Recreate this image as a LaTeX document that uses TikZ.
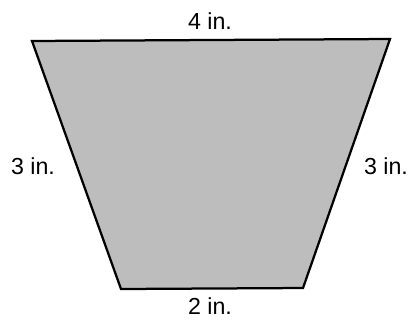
\documentclass[tikz,border=0pt]{standalone}
\usepackage{fontspec}
\setmainfont{Liberation Sans}
\usetikzlibrary{positioning}
\definecolor{shade}{HTML}{BDBDBD}

\begin{document}
\begin{tikzpicture}[
    x=0.025cm, y=-0.025cm,
    font=\fontsize{16.5}{18}\selectfont,
    side/.style={draw=black, line width=1.6pt, line join=miter},
    dimlab/.style={inner sep=1pt}
]

% page frame
\useasboundingbox (0,0) rectangle (411,324);

% corners of the trapezoid
\coordinate (tl) at (32,41);
\coordinate (tr) at (390,39);
\coordinate (br) at (303,288);
\coordinate (bl) at (121,289);

% shaded shape
\filldraw[side, fill=shade] (tl) -- (tr) -- (br) -- (bl) -- cycle;

% side lengths
\node[dimlab] (ltop)   at (210,21)  {4 in.};
\node[dimlab] (lleft)  at (33,166)  {3 in.};
\node[dimlab] (lright) at (386,166) {3 in.};
\node[dimlab] (lbot)   at (210,306) {2 in.};

\end{tikzpicture}
\end{document}
